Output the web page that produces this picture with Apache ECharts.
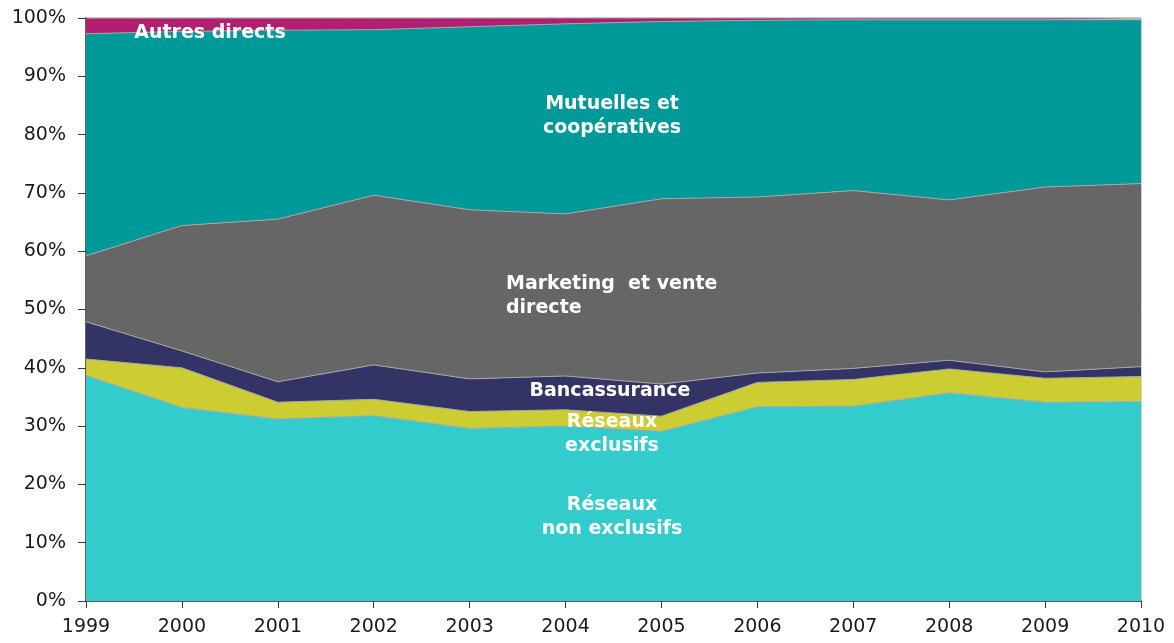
<!DOCTYPE html>
<html>
<head>
<meta charset="utf-8">
<script src="https://cdn.jsdelivr.net/npm/echarts@6/dist/echarts.min.js"></script>
<style>
  html, body { margin: 0; padding: 0; background: #fff; }
  #chart { width: 1174px; height: 643px; }
</style>
</head>
<body>
<div id="chart"></div>
<script>
// années
const years = ['1999', '2000', '2001', '2002', '2003', '2004', '2005', '2006', '2007', '2008', '2009', '2010']

// parts (%) de chaque réseau, du bas vers le haut
const nonExclusifs = [38.7, 33.2, 31.2, 31.8, 29.6, 30.0, 29.1, 33.3, 33.4, 35.7, 34.1, 34.2]
const exclusifs = [2.8, 6.8, 2.9, 2.8, 2.9, 2.8, 2.6, 4.2, 4.6, 4.1, 4.1, 4.3]
const bancassurance = [6.4, 2.9, 3.5, 5.9, 5.6, 5.8, 5.5, 1.6, 1.9, 1.5, 1.1, 1.7]
const marketing = [11.3, 21.5, 27.9, 29.1, 29.0, 27.8, 31.8, 30.2, 30.5, 27.5, 31.7, 31.4]
const mutuelles = [38.1, 33.3, 32.4, 28.4, 31.4, 32.6, 30.4, 30.3, 29.3, 30.9, 28.7, 28.1]
const autres = [2.7, 2.3, 2.1, 2.0, 1.5, 1.0, 0.6, 0.4, 0.3, 0.3, 0.3, 0.3]

const colors = ['#33cccc', '#cccc33', '#333366', '#666666', '#009999', '#b21f70']

const chart = echarts.init(document.getElementById('chart'))

function area (name, data, i) {
  return {
    name: name,
    type: 'line',
    stack: 'total',
    data: data,
    symbol: 'none',
    lineStyle: { color: '#a6a6a6', width: 1 },
    areaStyle: { color: colors[i], opacity: 1 },
    z: 2
  }
}

const labelFont = 'bold 19px "DejaVu Sans", Verdana, sans-serif'
function label (text, x, y, align) {
  return {
    type: 'text',
    x: x,
    y: y,
    z: 100,
    style: {
      text: text,
      fill: '#fff',
      font: labelFont,
      textAlign: align || 'center',
      textVerticalAlign: 'middle',
      lineHeight: 24
    }
  }
}

const options = {
  animation: false,
  grid: {
    left: 86,
    right: 33,
    top: 18,
    bottom: 42,
    show: true,
    borderColor: '#a6a6a6',
    borderWidth: 1
  },
  xAxis: {
    type: 'category',
    boundaryGap: false,
    data: years,
    axisLine: { lineStyle: { color: '#3a3a3a', width: 1.5 } },
    axisTick: { show: true, length: 7, lineStyle: { color: '#3a3a3a' } },
    axisLabel: { color: '#1a1a1a', fontSize: 19, fontFamily: 'DejaVu Sans', margin: 17 }
  },
  yAxis: {
    type: 'value',
    min: 0,
    max: 100,
    interval: 10,
    axisLine: { show: true, lineStyle: { color: '#3a3a3a', width: 1.5 } },
    axisTick: { show: true, length: 8, lineStyle: { color: '#3a3a3a' } },
    splitLine: { show: false },
    axisLabel: { formatter: '{value}%', color: '#1a1a1a', fontSize: 19, fontFamily: 'DejaVu Sans', margin: 20 }
  },
  series: [
    area('Réseaux non exclusifs', nonExclusifs, 0),
    area('Réseaux exclusifs', exclusifs, 1),
    area('Bancassurance', bancassurance, 2),
    area('Marketing et vente directe', marketing, 3),
    area('Mutuelles et coopératives', mutuelles, 4),
    area('Autres directs', autres, 5)
  ],
  graphic: [
    label('Autres directs', 210, 33),
    label('Mutuelles et\ncoopératives', 612, 116),
    label('Marketing  et vente\ndirecte', 506, 296, 'left'),
    label('Bancassurance', 610, 391),
    label('Réseaux\nexclusifs', 612, 434),
    label('Réseaux\nnon exclusifs', 612, 517)
  ]
}

chart.setOption(options)
</script>
</body>
</html>
